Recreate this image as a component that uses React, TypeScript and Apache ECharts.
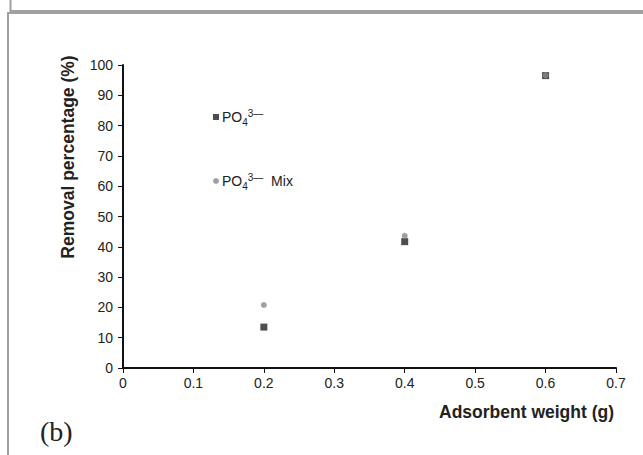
import React, { useEffect, useRef } from "react";
import * as echarts from "echarts";

const weights = [0.2, 0.4, 0.6];
const po4Single = [13.5, 41.7, 96.5];
const po4Mix = [20.8, 43.6, 96.6];
const seriesNames = ["PO4", "PO4 Mix"];
const yTitle = "Removal percentage (%)";
const xTitle = "Adsorbent weight (g)";
const panelLabel = "(b)";

const FONT = "'Liberation Sans', Arial, sans-serif";

export default function App() {
  const ref = useRef<HTMLDivElement>(null);
  useEffect(() => {
    if (!ref.current) return;
    const chart = echarts.init(ref.current, null, { renderer: "svg" });
    chart.setOption({
      animation: false,
      backgroundColor: "#fff",
      grid: { left: 123, top: 65, width: 493, height: 303, containLabel: false },
      xAxis: {
        type: "value",
        min: 0,
        max: 0.7,
        interval: 0.1,
        axisLine: { show: true, onZero: false, lineStyle: { color: "#111", width: 2 } },
        axisTick: { show: true, length: 5, lineStyle: { color: "#111", width: 1 } },
        axisLabel: { color: "#222", fontSize: 14, fontFamily: FONT, margin: 8 },
        splitLine: { show: false },
      },
      yAxis: {
        type: "value",
        min: 0,
        max: 100,
        interval: 10,
        axisLine: { show: true, lineStyle: { color: "#111", width: 2 } },
        axisTick: { show: true, length: 5, lineStyle: { color: "#111", width: 1 } },
        axisLabel: { color: "#222", fontSize: 14, fontFamily: FONT, margin: 10 },
        splitLine: { show: false },
      },
      legend: {
        orient: "vertical",
        left: 208,
        top: 101,
        itemGap: 42,
        itemWidth: 6,
        itemHeight: 6,
        data: [
          { name: seriesNames[0], icon: "rect" },
          { name: seriesNames[1], icon: "circle" },
        ],
        formatter: (name: string) =>
          name === seriesNames[0]
            ? "{b|PO}{sub|4}{sup|3—}"
            : "{b|PO}{sub|4}{sup|3—}{b|  Mix}",
        textStyle: {
          padding: [0, 0, 0, -2],
          rich: {
            b: { fontSize: 14, fontFamily: FONT, color: "#222", lineHeight: 22, verticalAlign: "middle" },
            sub: { fontSize: 10, fontFamily: FONT, color: "#222", lineHeight: 10, verticalAlign: "bottom", padding: [0, 0, 1, 0] },
            sup: { fontSize: 10, fontFamily: FONT, color: "#222", lineHeight: 10, verticalAlign: "top", padding: [2, 0, 0, 0] },
          },
        },
      },
      series: [
        {
          name: seriesNames[0],
          type: "scatter",
          symbol: "rect",
          symbolSize: 7,
          itemStyle: { color: "#222" },
          data: weights.map((w, i) => [w, po4Single[i]]),
          z: 2,
        },
        {
          name: seriesNames[1],
          type: "scatter",
          symbol: "circle",
          symbolSize: 6,
          itemStyle: { color: "#8a8a8a" },
          data: weights.map((w, i) => [w, po4Mix[i]]),
          z: 3,
        },
      ],
      graphic: [
        {
          type: "rect",
          shape: { x: 10.5, y: -10, width: 700, height: 21 },
          style: { fill: "none", stroke: "#a0a0a0", lineWidth: 2 },
        },
        {
          type: "rect",
          shape: { x: 8, y: 13, width: 700, height: 500 },
          style: { fill: "none", stroke: "#a0a0a0", lineWidth: 2 },
        },
        {
          type: "text",
          x: 68,
          y: 157,
          rotation: Math.PI / 2,
          style: {
            text: yTitle,
            font: `bold 17.5px ${FONT}`,
            fill: "#222",
            align: "center",
            verticalAlign: "middle",
          },
        },
        {
          type: "text",
          x: 614,
          y: 412,
          style: {
            text: xTitle,
            font: `bold 17.5px ${FONT}`,
            fill: "#222",
            align: "right",
            verticalAlign: "middle",
          },
        },
        {
          type: "text",
          x: 40,
          y: 431,
          style: {
            text: panelLabel,
            font: `28px 'Liberation Serif', 'Times New Roman', serif`,
            fill: "#222",
            align: "left",
            verticalAlign: "middle",
          },
        },
      ],
    });
    return () => chart.dispose();
  }, []);
  return (
    <div
      ref={ref}
      style={{ position: "absolute", left: 0, top: 0, width: 643, height: 455 }}
    />
  );
}
